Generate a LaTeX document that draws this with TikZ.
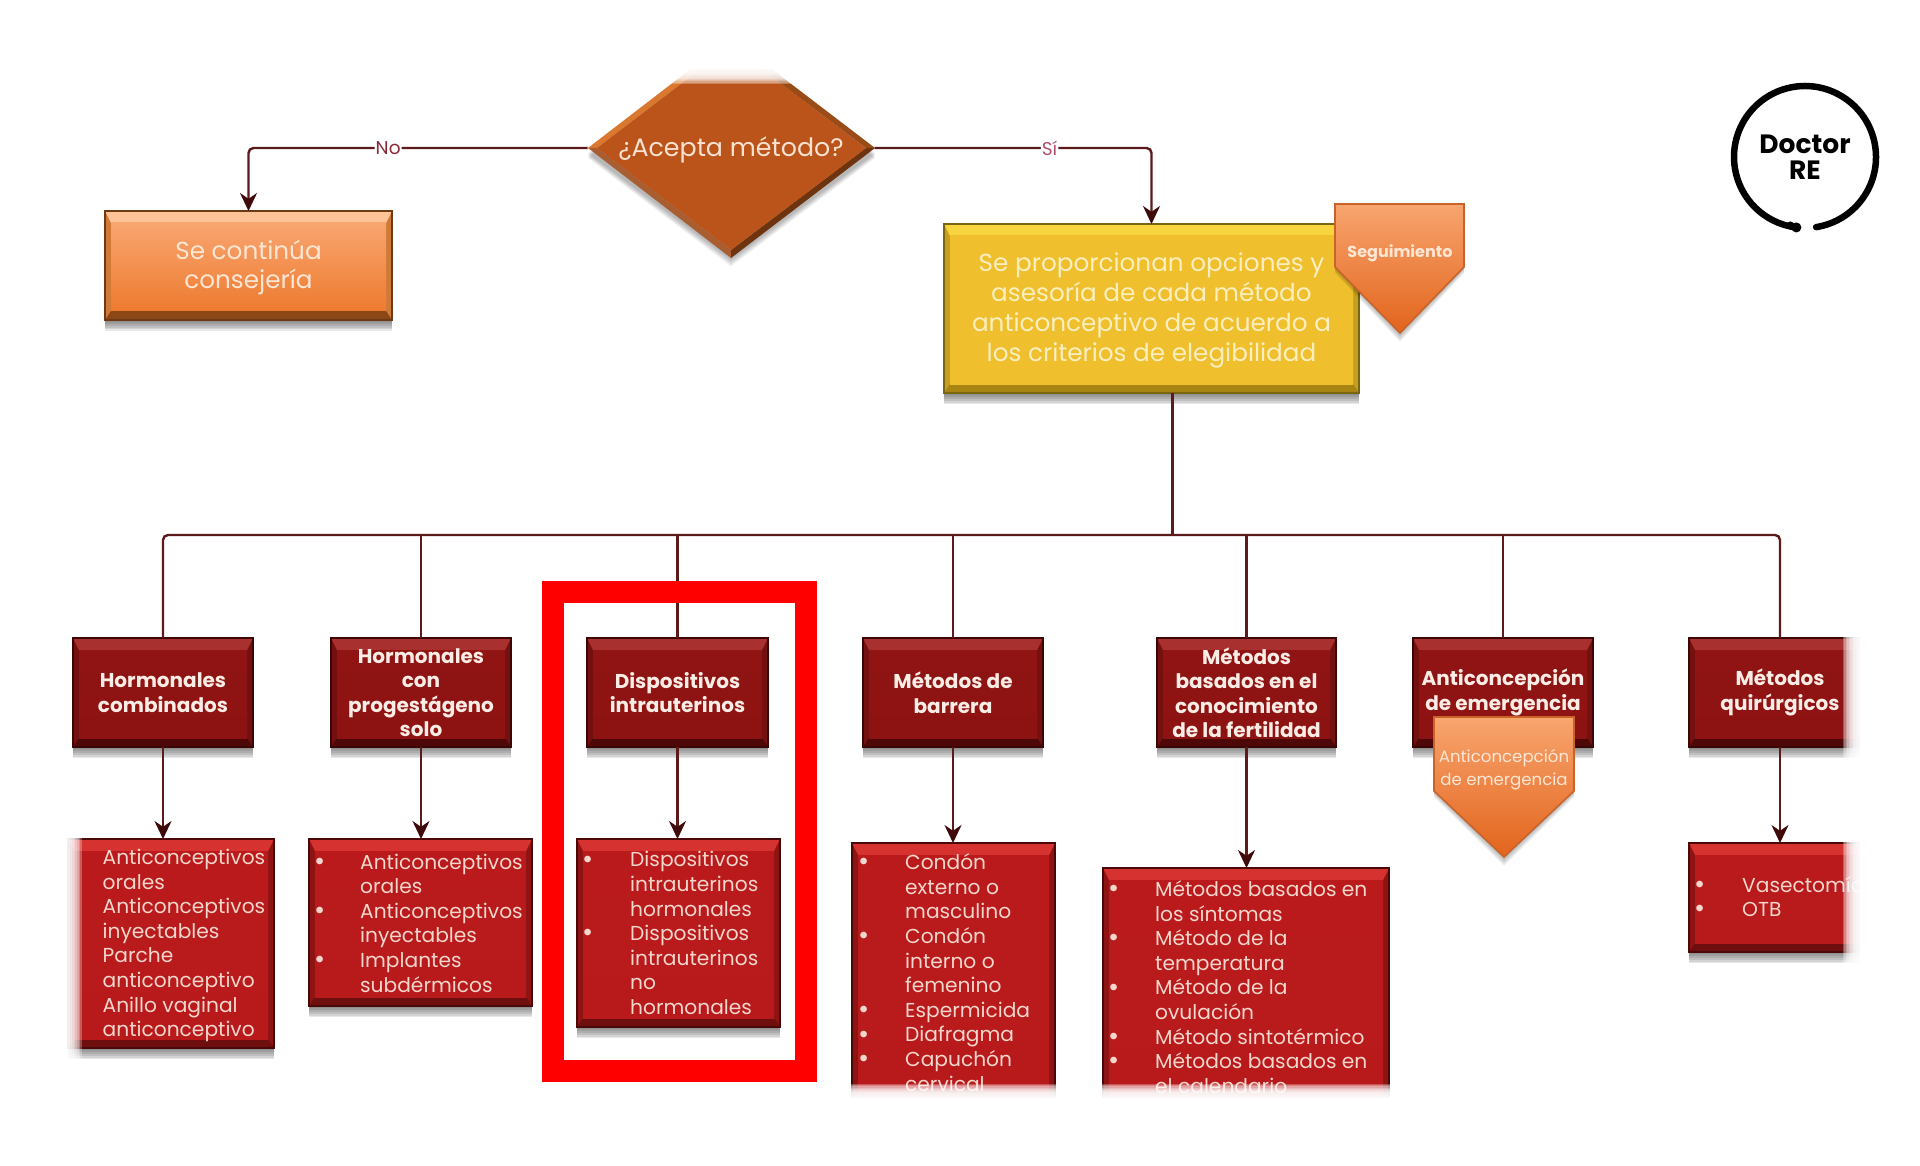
\documentclass[tikz,border=0pt]{standalone}
\usepackage{fontspec}
\setmainfont{Poppins}
\usetikzlibrary{arrows.meta,shapes.geometric,calc}
% palettes: faceT faceB top side bot edge
\definecolor{oraFaceT}{HTML}{F8A56F}\definecolor{oraFaceB}{HTML}{EE7B30}\definecolor{oratop}{HTML}{FBC396}\definecolor{oraside}{HTML}{D07A38}\definecolor{orabot}{HTML}{8C4716}\definecolor{oraedge}{HTML}{6E3A15}
\definecolor{yelFaceT}{HTML}{EFBF2D}\definecolor{yelFaceB}{HTML}{EFBF2D}\definecolor{yeltop}{HTML}{F8D53F}\definecolor{yelside}{HTML}{C79E1E}\definecolor{yelbot}{HTML}{A88412}\definecolor{yeledge}{HTML}{7A6510}
\definecolor{hedFaceT}{HTML}{8F1413}\definecolor{hedFaceB}{HTML}{8D1312}\definecolor{hedtop}{HTML}{A8312F}\definecolor{hedside}{HTML}{741010}\definecolor{hedbot}{HTML}{4E0808}\definecolor{hededge}{HTML}{3A0606}
\definecolor{lstFaceT}{HTML}{BA1A1C}\definecolor{lstFaceB}{HTML}{B81A1C}\definecolor{lsttop}{HTML}{D6322F}\definecolor{lstside}{HTML}{8E1414}\definecolor{lstbot}{HTML}{6F0E0E}\definecolor{lstedge}{HTML}{4A0808}
\definecolor{conn}{HTML}{5C1A1A}\definecolor{tipc}{HTML}{3E0A0A}
\definecolor{lsttxt}{HTML}{F5D6CC}\definecolor{hedtxt}{HTML}{FBEDE6}\definecolor{yeltxt}{HTML}{FBEFC0}\definecolor{oratxt}{HTML}{FFE6D5}\definecolor{dmdtxt}{HTML}{F9E2D2}
\definecolor{lblno}{HTML}{8A2A3A}\definecolor{lblsi}{HTML}{B0506A}
\definecolor{dmdA}{HTML}{D9782E}\definecolor{dmdB}{HTML}{9A4C18}\definecolor{dmdC}{HTML}{A85E30}\definecolor{dmdD}{HTML}{6E3410}\definecolor{dmdF}{HTML}{BB541A}
\definecolor{penB}{HTML}{E2641C}\definecolor{penE}{HTML}{C8642A}
\tikzset{
  hit/.style={inner sep=0pt,outer sep=0pt},
  link/.style={draw=conn,line width=2.4pt},
  tiplink/.style={link,-{Stealth[length=18pt,width=17pt,color=tipc]}},
  lbl/.style={fill=white,inner sep=1pt,font=\fontsize{18.5}{20}\selectfont},
  headtxt/.style={align=center,text=hedtxt,font=\fontsize{20}{24.5}\selectfont\bfseries},
  listtxt/.style={anchor=west,align=left,text=lsttxt,inner sep=0pt,font=\fontsize{20.2}{24.6}\selectfont},
  bigtxt/.style={align=center,font=\fontsize{24.7}{29.8}\selectfont},
  pentxt/.style={align=center,text=oratxt,inner sep=0pt},
}
\newcommand\bul[1]{\leavevmode\llap{\raisebox{-1.2pt}{\fontsize{27}{24}\selectfont\textbullet}\hspace{#1pt}}}
% name x1 y1 x2 y2 palette style text
\newcommand\bevelbox[8]{%
  \foreach \s in {1,...,6} \fill[black,opacity=.09] (#2,#3+8) rectangle (#4,#5+1.9*\s);
  \fill[#6side] (#2,#3) rectangle (#4,#5);
  \fill[#6top] (#2,#3)--(#4,#3)--(#4-6,#3+12)--(#2+6,#3+12)--cycle;
  \fill[#6bot] (#2,#5)--(#4,#5)--(#4-6,#5-9)--(#2+6,#5-9)--cycle;
  \shade[top color=#6FaceT,bottom color=#6FaceB] (#2+6,#3+12) rectangle (#4-6,#5-9);
  \draw[#6edge,line width=1.6pt] (#2,#3) rectangle (#4,#5);
  \node[hit,#7,minimum width=#4-#2,minimum height=#5-#3] (#1) at ({(#2+#4)/2},{(#3+#5)/2}) {#8};
}
\newcommand\fadeDown[4]{\foreach \i in {0,...,11} \fill[white,opacity=.27] (#1,{#3+(#4-#3)*\i/12}) rectangle (#2,#4+6);}
\newcommand\fadeUp[4]{\foreach \i in {0,...,11} \fill[white,opacity=.27] (#1,{#3-(#3-#4)*\i/12}) rectangle (#2,#4-2);}
\newcommand\fadeRight[4]{\foreach \i in {0,...,11} \fill[white,opacity=.27] ({#1+(#2-#1)*\i/12},#3) rectangle (#2+20,#4);}
\newcommand\fadeLeft[4]{\foreach \i in {0,...,11} \fill[white,opacity=.27] ({#1-(#1-#2)*\i/12},#3) rectangle (#2-3,#4);}
\begin{document}
\begin{tikzpicture}[x=1pt,y=-1pt]
\useasboundingbox (0,0) rectangle (1920,1166);
\fill[white] (0,0) rectangle (1920,1166);

% decision diamond (drawn piece by piece)
\foreach \s in {1,...,6} \fill[black,opacity=.05] (588,152+\s)--(731,38+\s)--(875,152+\s)--(731,258+1.4*\s)--cycle;
\fill[dmdA] (588,148)--(731,38)--(731,46)--(597,148)--cycle;
\fill[dmdB] (875,148)--(731,38)--(731,46)--(866,148)--cycle;
\fill[dmdC] (588,148)--(731,258)--(731,250)--(597,148)--cycle;
\fill[dmdD] (875,148)--(731,258)--(731,250)--(866,148)--cycle;
\fill[dmdF] (597,148)--(731,46)--(866,148)--(731,250)--cycle;
\node[hit,diamond,aspect=1.3,minimum width=287,minimum height=220] (q) at (731,148) {};
\node[hit,text=dmdtxt,font=\fontsize{25.3}{29}\selectfont] (qt) at ([yshift=-2pt]q.center) {¿Acepta método?};
\fill[white] (650,20) rectangle (810,69);
\fadeUp{650}{810}{84}{69}

% top boxes
\bevelbox{sec}{105}{211}{392}{320}{ora}{}{}
\bevelbox{yel}{944}{224}{1359}{393}{yel}{}{}
\node[bigtxt,text=oratxt] (sect) at ([yshift=-2pt]sec.center) {Se continúa\\consejería};
\node[bigtxt,text=yeltxt] (yelt) at ([yshift=-2pt]yel.center) {Se proporcionan opciones y\\asesoría de cada método\\anticonceptivo de acuerdo a\\los criterios de elegibilidad};

% connectors from the decision
\draw[tiplink,rounded corners=5pt] (q.west) -| (sec.north) node[pos=.294,lbl,text=lblno] (lno) {No};
\draw[tiplink,rounded corners=5pt] (q.east) -| (yel.north) node[pos=.316,lbl,text=lblsi] (lsi) {Sí};

% head row
\bevelbox{h1}{73}{638}{253}{747}{hed}{headtxt}{Hormonales\\combinados}
\bevelbox{h2}{331}{638}{511}{747}{hed}{headtxt}{Hormonales\\con\\progestágeno\\solo}
\bevelbox{h3}{587}{638}{768}{747}{hed}{headtxt}{Dispositivos\\intrauterinos}
\bevelbox{h4}{863}{638}{1043}{747}{hed}{headtxt}{Métodos de\\barrera}
\bevelbox{h5}{1157}{638}{1336}{747}{hed}{headtxt}{Métodos\\basados en el\\conocimiento\\de la fertilidad}
\bevelbox{h6}{1413}{638}{1593}{747}{hed}{headtxt}{Anticoncepción\\de emergencia}
\bevelbox{h7}{1689}{638}{1871}{747}{hed}{headtxt}{Métodos\\quirúrgicos}

% list row
\bevelbox{l1}{68}{839}{274}{1048}{lst}{}{}
\bevelbox{l2}{309}{839}{532}{1006}{lst}{}{}
\bevelbox{l3}{577}{839}{780}{1027}{lst}{}{}
\bevelbox{l4}{852}{843}{1055}{1110}{lst}{}{}
\bevelbox{l5}{1103}{868}{1389}{1110}{lst}{}{}
\bevelbox{l7}{1689}{843}{1869}{952}{lst}{}{}

\node[listtxt] (t1) at (102.5,945.5) {Anticonceptivos\\orales\\Anticonceptivos\\inyectables\\Parche\\anticonceptivo\\Anillo vaginal\\anticonceptivo};
\node[listtxt] (t2) at (360,923) {\bul{35}Anticonceptivos\\orales\\\bul{35}Anticonceptivos\\inyectables\\\bul{35}Implantes\\subdérmicos};
\node[listtxt] (t3) at (630,933) {\bul{37}Dispositivos\\intrauterinos\\hormonales\\\bul{37}Dispositivos\\intrauterinos\\no\\hormonales};
\node[listtxt] (t4) at (905,972.5) {\bul{36}Condón\\externo o\\masculino\\\bul{36}Condón\\interno o\\femenino\\\bul{36}Espermicida\\\bul{36}Diafragma\\\bul{36}Capuchón\\cervical};
\node[listtxt] (t5) at (1155,987) {\bul{36}Métodos basados en\\los síntomas\\\bul{36}Método de la\\temperatura\\\bul{36}Método de la\\ovulación\\\bul{36}Método sintotérmico\\\bul{36}Métodos basados en\\el calendario};
\node[listtxt] (t7) at (1742,897) {\bul{37}Vasectomía\\\bul{37}OTB};

% fades at the picture's cropped edges
\fadeDown{840}{1400}{1084}{1098}
\fill[white] (840,1098) rectangle (1400,1125);
\fadeRight{1843}{1860}{625}{975}
\fill[white] (1860,625) rectangle (1900,975);
\fadeLeft{82}{62}{830}{1065}

% trunk, bus and drops
\coordinate (bus) at (1172.5,535);
\draw[link] (yel.south -| bus) -- (bus);
\draw[link,rounded corners=5pt] (h1.north) |- (bus) -| (h7.north);
\foreach \n in {h2,h3,h4,h5,h6} \draw[link] (\n.north) -- (\n.north |- bus);

% arrows to the lists
\draw[tiplink] (h1.south) -- (h1.south |- l1.north);
\draw[tiplink] (h2.south) -- (h2.south |- l2.north);
\draw[tiplink] (h3.south) -- (h3.south |- l3.north);
\draw[tiplink] (h4.south) -- (h4.south |- l4.north);
\draw[tiplink] (h5.south) -- (h5.south |- l5.north);
\draw[tiplink] (h7.south) -- (h7.south |- l7.north);

% pentagons
\foreach \s in {1,...,6} \fill[black,opacity=.05] (1335,240)--(1464,240)--(1464,267+\s)--(1400,333+1.5*\s)--(1335,267+\s)--cycle;
\shade[top color=oraFaceT,bottom color=penB,draw=penE,line width=1.6pt] (1335,204)--(1464,204)--(1464,267)--(1400,333)--(1335,267)--cycle;
\node[pentxt,font=\fontsize{16}{18}\selectfont\bfseries] (seg) at (1400,253) {Seguimiento};
\foreach \s in {1,...,6} \fill[black,opacity=.05] (1434,760)--(1574,760)--(1574,791+\s)--(1504,857+1.5*\s)--(1434,791+\s)--cycle;
\shade[top color=oraFaceT,bottom color=penB,draw=penE,line width=1.6pt] (1434,717)--(1574,717)--(1574,791)--(1504,857)--(1434,791)--cycle;
\node[pentxt,font=\fontsize{16.6}{23}\selectfont] (ant) at (1504,769.5) {Anticoncepción\\de emergencia};

% logo
\node[hit,circle,minimum size=142,align=center,font=\fontsize{26.5}{26.5}\selectfont\bfseries,text=black] (logo) at (1805,157) {Doctor\\RE};
\draw[black,line width=6.5pt,line cap=round] ([shift={(81:71)}]logo.center) arc[start angle=81,end angle=-262,radius=71];
\fill[black] ([shift={(97:71)}]logo.center) circle (5);
\fill[black] ([shift={(102:70)}]logo.center) circle (4);

% highlight frame
\node[draw=red,line width=22pt,hit,minimum width=253.5,minimum height=478.5] (frame) at (679.25,831.25) {};
\end{tikzpicture}
\end{document}
